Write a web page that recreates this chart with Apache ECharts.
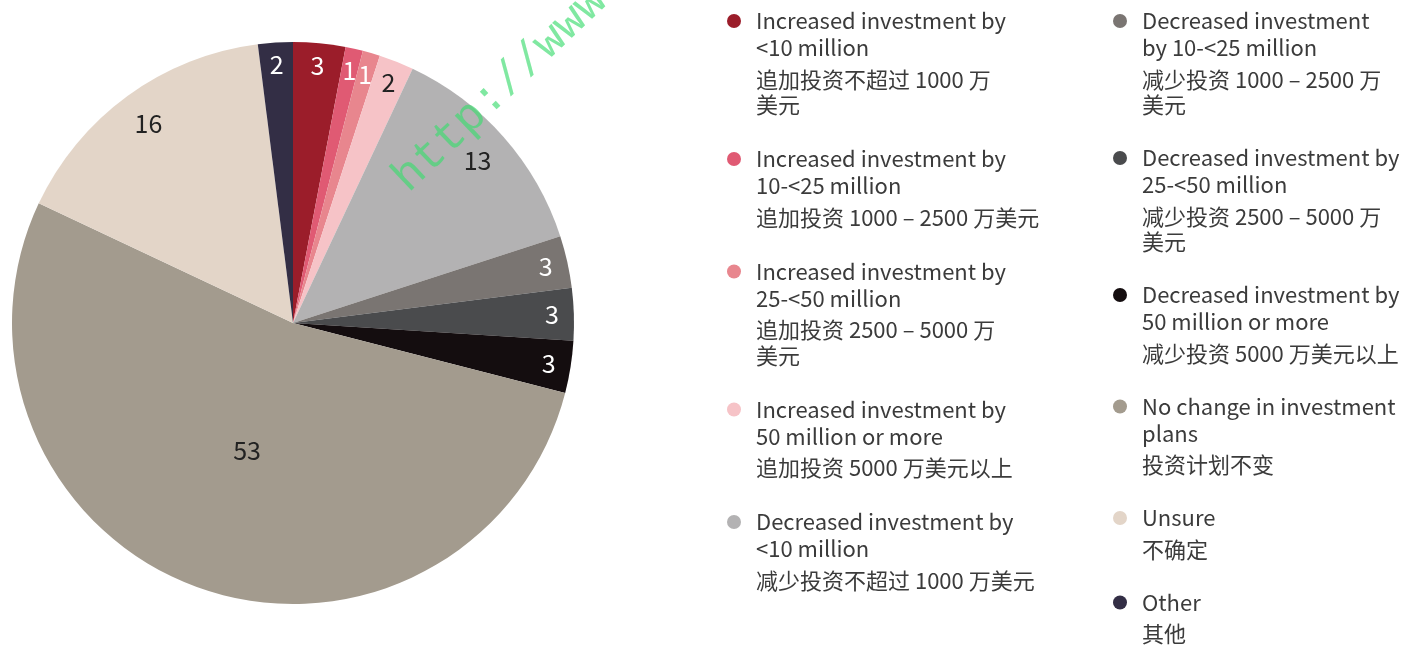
<!DOCTYPE html>
<html>
<head>
<meta charset="utf-8">
<script src="https://cdn.jsdelivr.net/npm/echarts@6/dist/echarts.min.js"></script>
<style>
  html, body { margin: 0; padding: 0; background: #fff; }
  #chart { width: 1414px; height: 647px; }
</style>
</head>
<body>
<div id="chart"></div>
<script>
// data (percent of respondents)
var categories = [
  'Increased investment by <10 million',
  'Increased investment by 10-<25 million',
  'Increased investment by 25-<50 million',
  'Increased investment by 50 million or more',
  'Decreased investment by <10 million',
  'Decreased investment by 10-<25 million',
  'Decreased investment by 25-<50 million',
  'Decreased investment by 50 million or more',
  'No change in investment plans',
  'Unsure',
  'Other'
];
var values = [3, 1, 1, 2, 13, 3, 3, 3, 53, 16, 2];

var enLabels = [
  'Increased investment by\n<10 million',
  'Increased investment by\n10-<25 million',
  'Increased investment by\n25-<50 million',
  'Increased investment by\n50 million or more',
  'Decreased investment by\n<10 million',
  'Decreased investment\nby 10-<25 million',
  'Decreased investment by\n25-<50 million',
  'Decreased investment by\n50 million or more',
  'No change in investment\nplans',
  'Unsure',
  'Other'
];
var zhLabels = [
  '追加投资不超过 1000 万\n美元',
  '追加投资 1000 – 2500 万美元',
  '追加投资 2500 – 5000 万\n美元',
  '追加投资 5000 万美元以上',
  '减少投资不超过 1000 万美元',
  '减少投资 1000 – 2500 万\n美元',
  '减少投资 2500 – 5000 万\n美元',
  '减少投资 5000 万美元以上',
  '投资计划不变',
  '不确定',
  '其他'
];

var colors = ['#9b1d2a', '#e05a73', '#e8868e', '#f6c3c7', '#b3b2b3', '#7a7572',
              '#4a4b4d', '#140d0f', '#a39b8e', '#e3d5c8', '#332e45'];
var labelColors = ['#fff', '#fff', '#fff', '#222', '#222', '#fff',
                   '#fff', '#fff', '#222', '#222', '#fff'];

var FONT = '"Noto Sans CJK SC", "Noto Sans", sans-serif';
var EN_LH = 27, ZH_FIRST_LH = 36, ZH_LH = 15;
var CX = 293, CY = 323, R = 281;

function legendText(name) {
  var i = categories.indexOf(name);
  var zh = zhLabels[i].split('\n');
  var s = '{en|' + enLabels[i] + '}\n{zh|' + zh[0] + '}';
  for (var k = 1; k < zh.length; k++) s += '\n{zh2|' + zh[k] + '}';
  return s;
}

// pad the text on top so that the icon lines up with the first line
function legendItem(i) {
  var nEn = enLabels[i].split('\n').length;
  var nZh = zhLabels[i].split('\n').length;
  var h = EN_LH * nEn + ZH_FIRST_LH + ZH_LH * (nZh - 1);
  return {
    name: categories[i],
    icon: 'circle',
    textStyle: { padding: [h - EN_LH, 0, 0, 0] }
  };
}

var richStyle = {
  en: { fontFamily: FONT, fontSize: 22, color: '#3b3b3b', lineHeight: EN_LH },
  zh: { fontFamily: FONT, fontSize: 22, color: '#3b3b3b', lineHeight: ZH_FIRST_LH },
  zh2: { fontFamily: FONT, fontSize: 22, color: '#3b3b3b', lineHeight: ZH_LH }
};

function makeLegend(from, to, left, gap) {
  var data = [];
  for (var i = from; i < to; i++) data.push(legendItem(i));
  return {
    orient: 'vertical',
    left: left,
    top: 10,
    height: 900,
    padding: 0,
    itemWidth: 34,
    itemHeight: 14,
    itemGap: gap,
    selectedMode: false,
    data: data,
    formatter: legendText,
    textStyle: { rich: richStyle }
  };
}

// pull some labels a little toward the centre, along their slice's mid angle
var labelInset = { 4: 13, 8: 8, 9: 13 };
var total = values.reduce(function (a, b) { return a + b; }, 0);

var mainData = [], ringData = [];
var acc = 0;
for (var i = 0; i < values.length; i++) {
  var mid = (acc + values[i] / 2) / total * Math.PI * 2;
  acc += values[i];
  var d = labelInset[i] || 0;
  var off = [-d * Math.sin(mid), d * Math.cos(mid)];
  mainData.push({
    name: categories[i],
    value: values[i],
    itemStyle: { color: colors[i] },
    label: { show: i === 8, color: labelColors[i], offset: off }
  });
  ringData.push({
    name: 'ring-' + i,
    value: values[i],
    label: { show: i !== 8, color: labelColors[i], offset: off }
  });
}

var myChart = echarts.init(document.getElementById('chart'));
var option = {
  animation: false,
  backgroundColor: '#fff',
  legend: [makeLegend(0, 5, 727, 32), makeLegend(5, 11, 1113, 31)],
  series: [
    {
      type: 'pie',
      center: [CX, CY],
      radius: [0, R],
      startAngle: 90,
      avoidLabelOverlap: false,
      itemStyle: { borderWidth: 0 },
      label: { position: 'inside', formatter: '{c}', fontFamily: FONT, fontSize: 25 },
      labelLine: { show: false },
      emphasis: { disabled: true },
      data: mainData
    },
    {
      // transparent ring used only to place the outer labels
      type: 'pie',
      silent: true,
      center: [CX, CY],
      radius: [231, R],
      startAngle: 90,
      avoidLabelOverlap: false,
      itemStyle: { color: 'transparent', borderWidth: 0 },
      label: { position: 'inside', formatter: '{c}', fontFamily: FONT, fontSize: 25 },
      labelLine: { show: false },
      emphasis: { disabled: true },
      data: ringData
    }
  ],
  graphic: [{
    type: 'text',
    x: 416,
    y: 201,
    rotation: 0.76,
    z: 100,
    silent: true,
    style: {
      text: 'http://www.',
      fontFamily: '"Liberation Mono", monospace',
      fontSize: 46,
      fill: 'rgba(60, 220, 110, 0.65)',
      align: 'left',
      verticalAlign: 'bottom'
    }
  }]
};
myChart.setOption(option);
</script>
</body>
</html>
